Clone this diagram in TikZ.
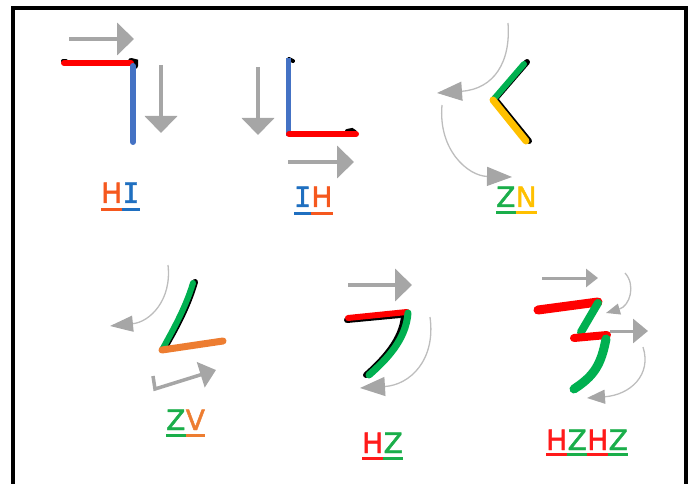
\documentclass[tikz,border=0pt]{standalone}
\usepackage{fontspec}
\newfontfamily\labelfont[FakeBold=1.6]{DejaVu Sans}
\newfontfamily\labelmono[FakeBold=1.6]{DejaVu Sans Mono}
\usetikzlibrary{positioning, arrows.meta}

\definecolor{arrowgray}{HTML}{A6A6A6}
\definecolor{curvegray}{HTML}{BDBDBD}
\definecolor{inkred}{HTML}{FF0000}
\definecolor{inkblue}{HTML}{4472C4}
\definecolor{inkgreen}{HTML}{00B050}
\definecolor{inkyellow}{HTML}{FFC000}
\definecolor{inkorange}{HTML}{ED7D31}
\definecolor{txtorange}{HTML}{F5581E}
\definecolor{txtblue}{HTML}{1F6FC0}
\definecolor{txtgreen}{HTML}{1AAE4A}
\definecolor{txtyellow}{HTML}{FFC000}
\definecolor{txtred}{HTML}{FF1A1A}

\begin{document}
\begin{tikzpicture}[
  x=1pt, y=-1pt,
  movearrow/.style={arrowgray, line width=4pt,
                    -{Triangle[length=17pt,width=32pt]}},
  turnarrow/.style={curvegray, line width=1.3pt,
                    -{Triangle[length=25pt,width=19pt,color=arrowgray]}},
  brush/.style={line width=6pt, line cap=round},
  letter/.style={inner sep=0pt, anchor=base west,
                 font=\labelfont\fontsize{28}{28}\selectfont},
  uline/.style={line width=3pt},
]
\useasboundingbox (0,0) rectangle (694,484);

% frame
\draw[line width=4pt] (13,484) -- (13,8) -- (686,8) -- (686,484);

% HI
\draw[movearrow] (69,39) -- (134,39);
\draw[movearrow] (161,65) -- (161,133);
\draw[brush, black, line width=4pt] (63,61) -- (66,61);
\draw[brush, black] (131,61) -- (135,62) -- (135,66);
\draw[brush, inkred] (64,63) -- (131,63);
\draw[brush, inkblue] (133,66) -- (133,142);
\node[letter, text=txtorange] (hi-h) at (101,203) {H};
\node[letter, text=txtblue, base right=0pt of hi-h] (hi-i) {\labelmono I};
\draw[uline, txtorange] ([yshift=-7pt]hi-h.base west) -- ([yshift=-7pt]hi-h.base east);
\draw[uline, txtblue] ([yshift=-7pt]hi-i.base west) -- ([yshift=-7pt]hi-i.base east);

% IH
\draw[movearrow] (258,67) -- (258,135);
\draw[movearrow] (288,162) -- (354,162);
\draw[brush, black, line width=4pt] (289,59) -- (293,61);
\draw[brush, black, line width=4pt] (347,131) -- (352,130) -- (355,132);
\draw[inkblue, line width=5pt] (288,58) -- (288,136);
\draw[brush, inkred] (289,134) -- (356,134);
\node[letter, text=txtblue] (ih-i) at (294,207) {\labelmono I};
\node[letter, text=txtorange, base right=0pt of ih-i] (ih-h) {H};
\draw[uline, txtblue] ([yshift=-7pt]ih-i.base west) -- ([yshift=-7pt]ih-i.base east);
\draw[uline, txtorange] ([yshift=-7pt]ih-h.base west) -- ([yshift=-7pt]ih-h.base east);

% ZN
\draw[turnarrow] (508,23) .. controls (511,62) and (494,89) .. (437,93);
\draw[turnarrow] (442,105) .. controls (438,150) and (468,176) .. (512,177);
\draw[brush, black] (527,62) -- (495,99) -- (529,141);
\draw[brush, inkgreen] (524,64) -- (493,100);
\draw[brush, inkyellow, line width=7pt] (493,100) -- (526,141);
\node[letter, text=txtgreen] (zn-z) at (496,207) {Z};
\node[letter, text=txtyellow, base right=0pt of zn-z] (zn-n) {N};
\draw[uline, txtgreen] ([yshift=-6pt]zn-z.base west) -- ([yshift=-6pt]zn-z.base east);
\draw[uline, txtyellow] ([yshift=-6pt]zn-n.base west) -- ([yshift=-6pt]zn-n.base east);

% ZV
\draw[turnarrow, -{Triangle[length=23pt,width=16pt,color=arrowgray]}]
  (168,265) .. controls (172,300) and (150,322) .. (110,326);
\draw[arrowgray, line width=3.5pt, -{Triangle[length=16pt,width=26pt]}]
  (153,376) -- (155,389) -- (216,370);
\draw[brush, black] (195,282) .. controls (187,310) and (172,335) .. (164,349);
\draw[brush, inkgreen] (193,283) .. controls (185,310) and (170,335) .. (162,350);
\draw[brush, inkorange, line width=7pt] (162,350) -- (223,341);
\node[letter, text=txtgreen] (zv-z) at (166,430) {Z};
\node[letter, text=inkorange, base right=0pt of zv-z] (zv-v) {V};
\draw[uline, txtgreen] ([yshift=-5pt]zv-z.base west) -- ([yshift=-5pt]zv-z.base east);
\draw[uline, inkorange] ([yshift=-5pt]zv-v.base west) -- ([yshift=-5pt]zv-v.base east);

% HZ
\draw[movearrow] (348,285) -- (412,285);
\draw[turnarrow] (430,317) .. controls (436,360) and (410,385) .. (360,388);
\draw[brush, black] (347,320) -- (400,315);
\draw[brush, black] (404,316) .. controls (402,340) and (383,360) .. (366,375);
\draw[brush, inkred] (348,318) -- (407,312);
\draw[brush, inkgreen, line width=7pt] (408,313) .. controls (406,340) and (386,360) .. (369,375);
\node[letter, text=txtred] (hz-h) at (362,453) {H};
\node[letter, text=txtgreen, base right=0pt of hz-h] (hz-z) {Z};
\draw[uline, txtred] ([yshift=-5pt]hz-h.base west) -- ([yshift=-5pt]hz-h.base east);
\draw[uline, txtgreen] ([yshift=-5pt]hz-z.base west) -- ([yshift=-5pt]hz-z.base east);

% HZHZ
\draw[arrowgray, line width=3pt, -{Triangle[length=12pt,width=18pt]}] (542,278) -- (598,278);
\draw[turnarrow, -{Triangle[length=14pt,width=11pt,color=arrowgray]}]
  (625,273) .. controls (636,285) and (630,306) .. (606,313);
\draw[arrowgray, line width=3pt, -{Triangle[length=15pt,width=24pt]}] (610,331) -- (648,331);
\draw[turnarrow, -{Triangle[length=18pt,width=14pt,color=arrowgray]}]
  (643,347) .. controls (652,375) and (630,395) .. (587,398);
\draw[brush, inkred, line width=9pt] (538,310) -- (598,302);
\draw[brush, inkgreen, line width=8pt] (598,303) -- (581,332);
\draw[brush, inkred, line width=8pt] (574,338) -- (607,335);
\draw[brush, inkgreen, line width=9pt] (606,339) .. controls (601,365) and (594,376) .. (574,389);
\node[letter, text=txtred] (hzhz-h1) at (546,450) {H};
\node[letter, text=txtgreen, base right=0pt of hzhz-h1] (hzhz-z1) {Z};
\node[letter, text=txtred, base right=0pt of hzhz-z1] (hzhz-h2) {H};
\node[letter, text=txtgreen, base right=0pt of hzhz-h2] (hzhz-z2) {Z};
\foreach \part/\col in {h1/txtred, z1/txtgreen, h2/txtred, z2/txtgreen}
  \draw[uline, \col] ([yshift=-4pt]hzhz-\part.base west) -- ([yshift=-4pt]hzhz-\part.base east);

\end{tikzpicture}
\end{document}
